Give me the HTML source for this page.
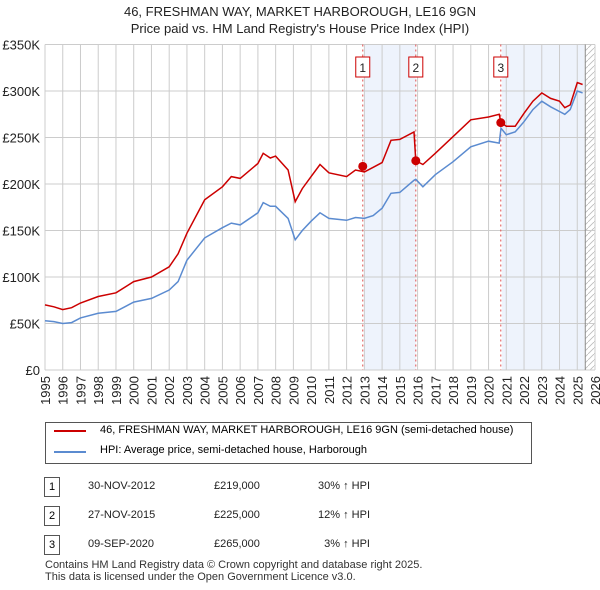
<!DOCTYPE html>
<html><head><meta charset="utf-8"><style>
body{margin:0;background:#fff;font-family:"Liberation Sans","DejaVu Sans",sans-serif;}
#w{position:relative;width:600px;height:590px;overflow:hidden}
.t{position:absolute;font-size:12px;color:#222}
</style></head><body><div id="w">
<div class="t" style="left:0;width:600px;top:3px;text-align:center;font-size:13px;line-height:17px">46, FRESHMAN WAY, MARKET HARBOROUGH, LE16 9GN<br>Price paid vs. HM Land Registry's House Price Index (HPI)</div>
<svg id="c" width="600" height="420" style="position:absolute;left:0;top:0"></svg>
<div style="position:absolute;left:45px;top:422px;width:485px;height:40px;border:1px solid #555;font-size:11px">
<div style="position:absolute;left:8px;top:7px;width:32px;border-top:2px solid #cc0000"></div>
<div style="position:absolute;left:54px;top:1px">46, FRESHMAN WAY, MARKET HARBOROUGH, LE16 9GN (semi-detached house)</div>
<div style="position:absolute;left:8px;top:28px;width:32px;border-top:2px solid #5b8bd0"></div>
<div style="position:absolute;left:54px;top:21px">HPI: Average price, semi-detached house, Harborough</div>
</div>
<div id="tbl"></div>
<div class="t" style="left:45px;top:559px;font-size:11px;line-height:12px;color:#333">Contains HM Land Registry data © Crown copyright and database right 2025.<br>This data is licensed under the Open Government Licence v3.0.</div>
</div>
<script>
const hpiYears=[1995,1995.5,1996,1996.5,1997,1998,1999,2000,2001,2002,2002.5,2003,2004,2005,2005.5,2006,2007,2007.3,2007.7,2008,2008.7,2009.1,2009.5,2010,2010.5,2011,2012,2012.5,2013,2013.5,2014,2014.5,2015,2015.8,2015.9,2016.3,2017,2018,2019,2020,2020.6,2020.7,2021,2021.5,2022,2022.5,2023,2023.5,2024,2024.3,2024.6,2025,2025.3];
const hpiValues=[53,52,50,51,56,61,63,73,77,86,95,118,142,153,158,156,169,180,176,176,163,140,150,160,169,163,161,164,163,166,174,190,191,204,205,197,210,224,240,246,244,260,253,256,267,280,289,283,278,275,280,300,298];
const priceValues=[70,68,65,67,72,79,83,95,100,111,125,147,183,197,208,206,222,233,228,230,215,181,195,208,221,212,208,215,213,218,223,247,248,256,225,221,233,251,269,272,275,266,262,262,276,289,298,292,289,282,285,309,307];
const saleYears=[2012.91,2015.9,2020.69];
const saleValues=[219,225,266];
const yTicks=[0,50,100,150,200,250,300,350];
const xTicks=[1995,1996,1997,1998,1999,2000,2001,2002,2003,2004,2005,2006,2007,2008,2009,2010,2011,2012,2013,2014,2015,2016,2017,2018,2019,2020,2021,2022,2023,2024,2025,2026];
const saleLabels=["1","2","3"];
const saleDates=["30-NOV-2012","27-NOV-2015","09-SEP-2020"];
const salePrices=["£219,000","£225,000","£265,000"];
const saleDiffs=["30% ↑ HPI","12% ↑ HPI","3% ↑ HPI"];
const X=v=>45+(v-1995)*(550/31), Y=v=>370-v*(325.5/350);
const s=document.getElementById('c'),NS='http://www.w3.org/2000/svg';
function mk(t,a){const e=document.createElementNS(NS,t);for(const k in a)e.setAttribute(k,a[k]);s.appendChild(e);return e;}
let e;
e=mk('rect',{x:X(2013),y:Y(350),width:X(2015.9)-X(2013),height:Y(0)-Y(350),fill:'#eef3fc'});

e=mk('rect',{x:X(2020.75),y:Y(350),width:X(2025.4)-X(2020.75),height:Y(0)-Y(350),fill:'#eef3fc'});

const defs=mk('defs',{});defs.innerHTML='<pattern id="h" width="6" height="6" patternUnits="userSpaceOnUse"><path d="M0 6L6 0" stroke="#bbb" stroke-width="0.8"/></pattern>';
e=mk('rect',{x:X(2025.45),y:Y(350),width:X(2026)-X(2025.45),height:Y(0)-Y(350),fill:'url(#h)'});

yTicks.forEach(v=>{e=mk('line',{x1:45,x2:595,y1:Y(v),y2:Y(v),stroke:'#ccc'});

e=mk('text',{x:40,y:Y(v)+5,'text-anchor':'end','font-size':13,fill:'#222'});e.textContent=v?'£'+v+'K':'£0';
});
xTicks.forEach(v=>{e=mk('line',{x1:X(v),x2:X(v),y1:Y(350),y2:Y(0),stroke:'#ccc'});

e=mk('text',{transform:`translate(${X(v)+5},376) rotate(-90)`,'text-anchor':'end','font-size':13,fill:'#222'});e.textContent=v;
});
e=mk('line',{x1:X(2025.45),x2:X(2025.45),y1:Y(350),y2:Y(0),stroke:'#888'});

saleYears.forEach((y,i)=>{e=mk('line',{x1:X(y),x2:X(y),y1:Y(350),y2:Y(0),stroke:'#e05050','stroke-dasharray':'2,3'});

e=mk('rect',{x:X(y)-7,y:57,width:14,height:20,fill:'#fff',stroke:'#cc0000'});

e=mk('text',{x:X(y),y:72,'text-anchor':'middle','font-size':12,fill:'#222'});e.textContent=saleLabels[i];
});
const path=(vals,col,name)=>{e=mk('path',{d:hpiYears.map((y,i)=>(i?'L':'M')+X(y).toFixed(1)+' '+Y(vals[i]).toFixed(1)).join(''),fill:'none',stroke:col,'stroke-width':1.5});
};
path(hpiValues,'#5b8bd0','hpi-line');path(priceValues,'#cc0000','price-line');
saleYears.forEach((y,i)=>{e=mk('circle',{cx:X(y),cy:Y(saleValues[i]),r:4.5,fill:'#cc0000'});
});
const tb=document.getElementById('tbl');
saleLabels.forEach((l,i)=>{const top=477+i*29;const r=document.createElement('div');

r.innerHTML=`<div style="position:absolute;left:44px;top:${top}px;width:14px;height:18px;border:1px solid #555;text-align:center;font-size:11px;line-height:18px">${l}</div>
<div class="t" style="left:88px;top:${top+3}px;font-size:11px">${saleDates[i]}</div>
<div class="t" style="left:214px;top:${top+3}px;font-size:11px">${salePrices[i]}</div>
<div class="t" style="left:300px;top:${top+3}px;width:70px;text-align:right;font-size:11px">${saleDiffs[i]}</div>`;
tb.appendChild(r);});
</script></body></html>
